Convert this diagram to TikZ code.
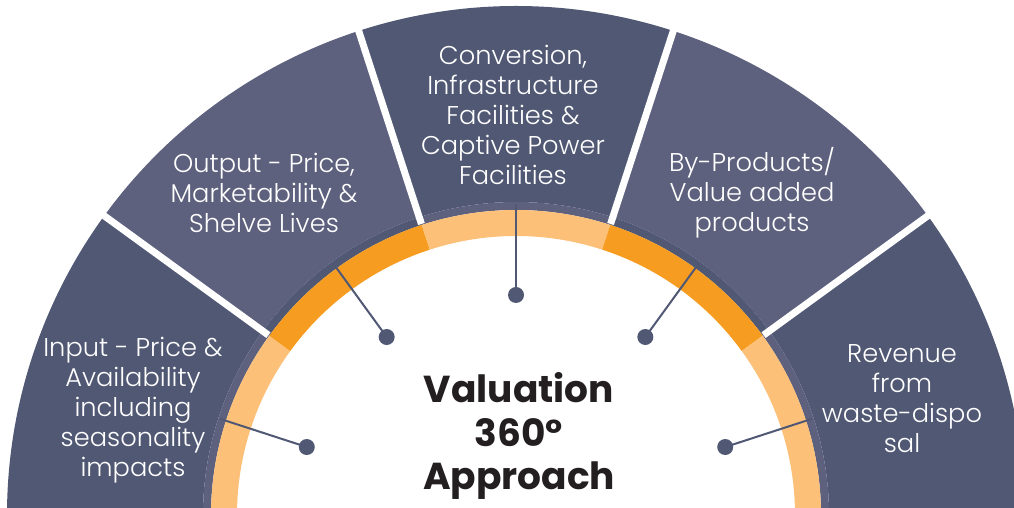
\documentclass[tikz,border=0pt]{standalone}
\usepackage{fontspec}
\setmainfont{Poppins}
\newfontfamily\lightfont{Poppins Light}
\definecolor{segdark}{RGB}{80,88,116}
\definecolor{seglight}{RGB}{94,97,126}
\definecolor{orlight}{RGB}{252,192,120}
\definecolor{ordark}{RGB}{246,157,33}
\definecolor{ctext}{RGB}{35,31,32}
\tikzset{
  segtext/.style={text=white, align=center, font=\lightfont\fontsize{25.7}{30}\selectfont, inner sep=0pt},
  midtext/.style={text=ctext, align=center, font=\fontsize{37.5}{43.5}\selectfont\bfseries, inner sep=0pt},
  dotnode/.style={circle, fill=segdark, minimum size=16pt, inner sep=0pt},
  leader/.style={draw=segdark, line width=2pt},
  gapline/.style={draw=white, line width=7pt}
}
\begin{document}
\begin{tikzpicture}[x=1pt,y=1pt]
\useasboundingbox (0,0) rectangle (1014,508);
\fill[white] (0,0) rectangle (1014,508);
\begin{scope}[shift={(516,-7)}]
  % outer segments
  \foreach \a/\c/\o/\b in {180/segdark/orlight/seglight,144/seglight/ordark/segdark,108/segdark/orlight/seglight,72/seglight/ordark/segdark,36/segdark/orlight/seglight}{
    \pgfmathsetmacro{\e}{\a-36}
    \fill[\c] (\a:509) arc[start angle=\a, end angle=\e, radius=509] -- (\e:313) arc[start angle=\e, end angle=\a, radius=313] -- cycle;
    \fill[\b] (\a:313) arc[start angle=\a, end angle=\e, radius=313] -- (\e:305) arc[start angle=\e, end angle=\a, radius=305] -- cycle;
    \fill[\o] (\a:305) arc[start angle=\a, end angle=\e, radius=305] -- (\e:279) arc[start angle=\e, end angle=\a, radius=279] -- cycle;
  }
  % gaps
  \foreach \a in {144,108,72,36}{
    \draw[gapline] (\a:306) -- (\a:540);
  }
  % leaders and dots
  \foreach \i/\a in {1/162,2/126,3/90,4/54,5/18}{
    \coordinate (b\i) at (\a:311);
    \node[dotnode] (d\i) at (\a:220) {};
    \draw[leader] (b\i) -- (d\i.center);
  }
\end{scope}
\node[segtext] (t1) at (133,98) {Input - Price \&\\Availability\\including\\seasonality\\impacts};
\node[segtext] (t2) at (264,315) {Output - Price,\\Marketability \&\\Shelve Lives};
\node[segtext] (t3) at (513,393) {Conversion,\\Infrastructure\\Facilities \&\\Captive Power\\Facilities};
\node[segtext] (t4) at (752,315) {By-Products/\\Value added\\products};
\node[segtext] (t5) at (902,109) {Revenue\\from\\waste-dispo\\sal};
\node[midtext] (mid) at (519,72) {Valuation\\360º\\Approach};
\end{tikzpicture}
\end{document}
